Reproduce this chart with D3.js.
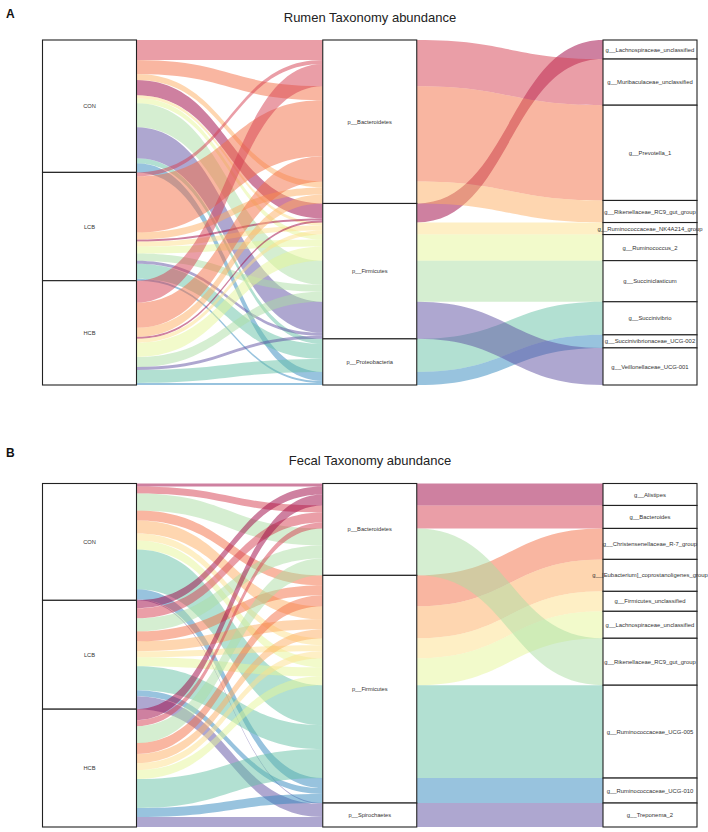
<!DOCTYPE html>
<html><head><meta charset="utf-8">
<script src="https://cdn.jsdelivr.net/npm/d3@7"></script>
<style>body{margin:0;background:#fff} svg{display:block}</style>
</head><body>
<svg id="chart" width="708" height="832"></svg>
<script>
// ---------- data ----------
const groups = ["CON", "LCB", "HCB"];
const palette = ["#9e0142","#d53e4f","#f46d43","#fdae61","#fee08b","#e6f598","#abdda4","#66c2a5","#3288bd","#5e4fa2"];

// Rumen
const rumenTitle = "Rumen Taxonomy abundance";
const rumenPhyla = ["p__Bacteroidetes", "p__Firmicutes", "p__Proteobacteria"];
const rumenGenera = ["g__Lachnospiraceae_unclassified","g__Muribaculaceae_unclassified","g__Prevotella_1",
  "g__Rikenellaceae_RC9_gut_group","g__Ruminococcaceae_NK4A214_group","g__Ruminococcus_2",
  "g__Succiniclasticum","g__Succinivibrio","g__Succinivibrionaceae_UCG-002","g__Veillonellaceae_UCG-001"];
const rumenGenusPhylum = ["p__Firmicutes","p__Bacteroidetes","p__Bacteroidetes","p__Bacteroidetes",
  "p__Firmicutes","p__Firmicutes","p__Firmicutes","p__Proteobacteria","p__Proteobacteria","p__Firmicutes"];
const rumenCON = [15, 20, 14, 6, 3, 5, 24, 5, 9, 31];
const rumenLCB = [2, 4, 56, 7, 5, 7, 7, 15, 2, 3];
const rumenHCB = [2, 22, 25, 9, 4, 14, 10, 13, 2, 3];

// Fecal
const fecalTitle = "Fecal Taxonomy abundance";
const fecalPhyla = ["p__Bacteroidetes", "p__Firmicutes", "p__Spirochaetes"];
const fecalGenera = ["g__Alistipes","g__Bacteroides","g__Christensenellaceae_R-7_group",
  "g__[Eubacterium]_coprostanoligenes_group","g__Firmicutes_unclassified","g__Lachnospiraceae_unclassified",
  "g__Rikenellaceae_RC9_gut_group","g__Ruminococcaceae_UCG-005","g__Ruminococcaceae_UCG-010","g__Treponema_2"];
const fecalGenusPhylum = ["p__Bacteroidetes","p__Bacteroidetes","p__Firmicutes","p__Firmicutes","p__Firmicutes",
  "p__Firmicutes","p__Bacteroidetes","p__Firmicutes","p__Firmicutes","p__Spirochaetes"];
const fecalCON = [3, 7, 10, 13, 7, 9, 17, 40, 10, 1];
const fecalLCB = [8, 10, 10, 10, 6, 9, 13, 24, 6, 13];
const fecalHCB = [11, 6, 11, 9, 7, 9, 17, 29, 9, 10];

// ---------- drawing ----------
const svg = d3.select("#chart");
const x = d3.scalePoint().domain([0, 1, 2]).range([89.5, 650]);
const boxW = 94;
const FONT = "Liberation Sans, Arial, sans-serif";

function panel(letter, title, phyla, genera, genusPhylum, rowsByGroup, yTop, yBot, titleY, letterY) {
  const g = svg.append("g");
  const rows = [];
  groups.forEach((grp, gi) => genera.forEach((ge, k) => {
    const v = rowsByGroup[gi][k];
    if (v > 0) rows.push({gi, k, pi: phyla.indexOf(genusPhylum[k]), value: v});
  }));
  const total = d3.sum(rows, d => d.value);
  const y = d3.scaleLinear().domain([0, total]).range([yTop, yBot]);
  const orders = [
    (a, b) => a.gi - b.gi || a.pi - b.pi || a.k - b.k,
    (a, b) => a.pi - b.pi || a.k - b.k || a.gi - b.gi,
    (a, b) => a.k - b.k || a.gi - b.gi
  ];
  orders.forEach((cmp, ax) => {
    let c = 0;
    rows.slice().sort(cmp).forEach(r => { r["t" + ax] = y(c); c += r.value; r["b" + ax] = y(c); });
  });

  // alluvia between phylum and genus axes are contiguous per genus: merge them into one ribbon
  const merged = d3.groups(rows, r => r.k).map(([k, rs]) => ({
    k,
    t1: d3.min(rs, r => r.t1), b1: d3.max(rs, r => r.b1),
    t2: d3.min(rs, r => r.t2), b2: d3.max(rs, r => r.b2)
  }));

  function ribbon(r, a) {
    const xa = x(a) + boxW / 2, xb = x(a + 1) - boxW / 2, xm = (xa + xb) / 2;
    const p = d3.path();
    p.moveTo(xa, r["t" + a]);
    p.bezierCurveTo(xm, r["t" + a], xm, r["t" + (a + 1)], xb, r["t" + (a + 1)]);
    p.lineTo(xb, r["b" + (a + 1)]);
    p.bezierCurveTo(xm, r["b" + (a + 1)], xm, r["b" + a], xa, r["b" + a]);
    p.closePath();
    return p.toString();
  }
  [[0, rows], [1, merged]].forEach(([a, data]) => {
    g.append("g").selectAll("path").data(data).join("path")
      .attr("d", r => ribbon(r, a))
      .attr("fill", r => palette[r.k])
      .attr("fill-opacity", 0.5)
      .attr("stroke", "none");
  });

  // strata
  const strata = [
    groups.map((lab, i) => ({lab, v: d3.sum(rows.filter(r => r.gi === i), r => r.value)})),
    phyla.map((lab, i) => ({lab, v: d3.sum(rows.filter(r => r.pi === i), r => r.value)})),
    genera.map((lab, i) => ({lab, v: d3.sum(rows.filter(r => r.k === i), r => r.value)}))
  ];
  strata.forEach((list, ax) => {
    let c = 0;
    list.forEach(s => { s.top = y(c); c += s.v; s.bot = y(c); });
    const sg = g.append("g");
    sg.selectAll("rect").data(list).join("rect")
      .attr("x", x(ax) - boxW / 2).attr("y", d => d.top)
      .attr("width", boxW).attr("height", d => d.bot - d.top)
      .attr("fill", "#fff").attr("stroke", "#222").attr("stroke-width", 1.1);
    sg.selectAll("text").data(list).join("text")
      .attr("x", x(ax)).attr("y", d => (d.top + d.bot) / 2)
      .attr("dy", "0.35em").attr("text-anchor", "middle")
      .attr("font-family", FONT)
      .attr("font-size", ax === 2 ? 5.9 : 5.7).attr("fill", "#333")
      .text(d => d.lab);
  });

  svg.append("text").attr("x", 370).attr("y", titleY).attr("text-anchor", "middle")
    .attr("font-family", FONT).attr("font-size", 13).attr("fill", "#222")
    .text(title);
  svg.append("text").attr("x", 6).attr("y", letterY)
    .attr("font-family", FONT).attr("font-size", 12).attr("font-weight", "bold")
    .attr("fill", "#111").text(letter);
}

panel("A", rumenTitle, rumenPhyla, rumenGenera, rumenGenusPhylum, [rumenCON, rumenLCB, rumenHCB], 40, 385, 22, 18);
panel("B", fecalTitle, fecalPhyla, fecalGenera, fecalGenusPhylum, [fecalCON, fecalLCB, fecalHCB], 483.5, 827, 465, 457);
</script>
</body></html>
